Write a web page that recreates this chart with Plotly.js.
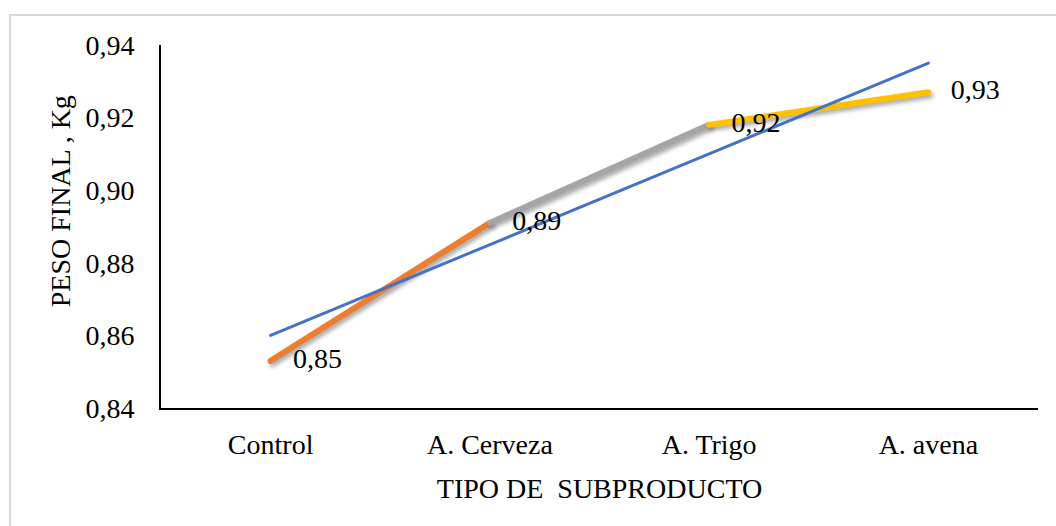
<!DOCTYPE html>
<html>
<head>
<meta charset="utf-8">
<script src="https://cdn.plot.ly/plotly-3.0.1.min.js"></script>
<style>
  html, body { margin: 0; padding: 0; background: #fff; }
  #wrap { position: relative; width: 1056px; height: 526px; }
  #chart { width: 1056px; height: 526px; }
  #frame {
    position: absolute; left: 9px; top: 14px; right: 0; bottom: 0;
    border-top: 2px solid #d9d9d9; border-left: 2px solid #d9d9d9;
    pointer-events: none;
  }
</style>
</head>
<body>
<div id="wrap">
  <div id="chart"></div>
  <div id="frame"></div>
</div>
<script>
// Final weight (kg) per by-product type
const categories = ['Control', 'A. Cerveza', 'A. Trigo', 'A. avena'];
const peso = [0.853, 0.891, 0.918, 0.927];
const segmentColors = ['#ED7D31', '#A5A5A5', '#FFC000'];

// Linear trend line end values
const trendX = ['Control', 'A. avena'];
const trendY = [0.860, 0.935];

const yTicks = [0.84, 0.86, 0.88, 0.90, 0.92, 0.94];

const FONT = '"Liberation Serif", "Times New Roman", Times, serif';
const FS = 28;

const traces = [];

// One coloured segment between each pair of neighbouring categories
for (let i = 0; i < categories.length - 1; i++) {
  traces.push({
    type: 'scatter',
    mode: 'lines',
    x: categories.slice(i, i + 2),
    y: peso.slice(i, i + 2),
    line: { color: segmentColors[i], width: 6 },
    hoverinfo: 'skip',
    showlegend: false
  });
}

// Trend line
traces.push({
  type: 'scatter',
  mode: 'lines',
  x: trendX,
  y: trendY,
  line: { color: '#4472C4', width: 3 },
  hoverinfo: 'skip',
  showlegend: false
});

// Value labels to the right of each point
traces.push({
  type: 'scatter',
  mode: 'markers+text',
  x: categories,
  y: peso,
  text: peso.map(v => v.toFixed(2).replace('.', ',')),
  textposition: 'middle right',
  textfont: { family: FONT, size: FS, color: '#000' },
  marker: { size: 34, color: 'rgba(0,0,0,0)' },
  hoverinfo: 'skip',
  showlegend: false
});

const layout = {
  width: 1056,
  height: 526,
  margin: { l: 161, r: 18, t: 45, b: 118 },
  paper_bgcolor: '#ffffff',
  plot_bgcolor: '#ffffff',
  separators: ',.',
  font: { family: FONT, size: FS, color: '#000' },
  showlegend: false,
  xaxis: {
    type: 'category',
    categoryorder: 'array',
    categoryarray: categories,
    range: [-0.5, 3.5],
    showgrid: false,
    zeroline: false,
    showline: true,
    linecolor: '#000',
    linewidth: 2,
    ticks: '',
    ticklabelstandoff: 10,
    tickfont: { family: FONT, size: FS, color: '#000' },
    title: { text: 'TIPO DE\u00a0 SUBPRODUCTO', font: { family: FONT, size: FS, color: '#000' }, standoff: 20 },
    fixedrange: true
  },
  yaxis: {
    range: [0.84, 0.94],
    tickvals: yTicks,
    tickformat: '.2f',
    showgrid: false,
    zeroline: false,
    showline: true,
    linecolor: '#000',
    linewidth: 2,
    ticks: '',
    ticklabelstandoff: 19,
    tickfont: { family: FONT, size: FS, color: '#000' },
    fixedrange: true
  },
  annotations: [{
    text: 'PESO FINAL , Kg',
    textangle: -90,
    xref: 'paper', yref: 'paper',
    x: -0.115, y: 0.57,
    xanchor: 'center', yanchor: 'middle',
    showarrow: false,
    font: { family: FONT, size: FS, color: '#000' }
  }]
};

Plotly.newPlot('chart', traces, layout, { displayModeBar: false, staticPlot: true }).then(() => {
  // Soft drop shadow and rounded ends on the coloured segments
  const groups = document.querySelectorAll('#chart .scatterlayer .trace');
  groups.forEach((g, i) => {
    const path = g.querySelector('path.js-line');
    if (!path) return;
    path.style.strokeLinecap = 'round';
    if (i < categories.length - 1) {
      path.style.filter = 'drop-shadow(2px 3px 2px rgba(0,0,0,0.35))';
    }
  });
});
</script>
</body>
</html>
